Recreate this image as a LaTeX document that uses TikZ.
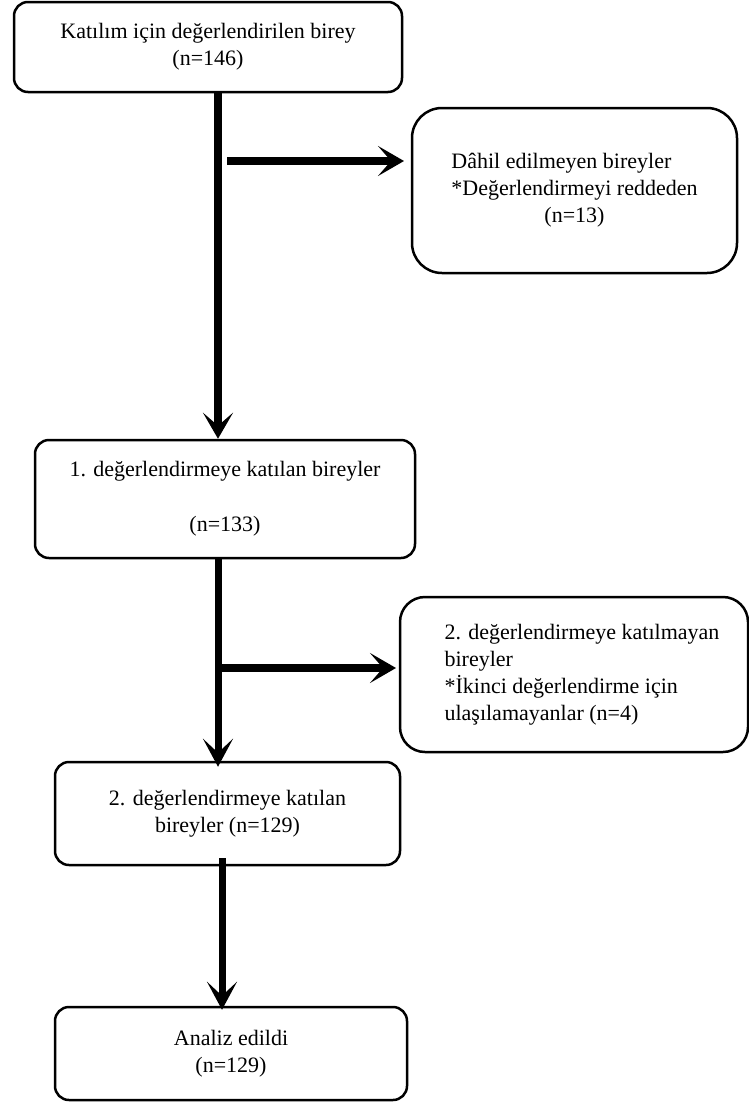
\documentclass[tikz,border=0pt]{standalone}
\usepackage{fontspec}
\setmainfont{Liberation Serif}
\usetikzlibrary{arrows.meta}
\begin{document}
\begin{tikzpicture}[x=1pt,y=-1pt,
  box/.style={draw, line width=2.5pt, rounded corners=#1, align=center,
    font=\fontsize{22}{27}\selectfont, inner sep=0pt},
  box/.default=14pt,
  conn/.style={line width=8.5pt, -{Stealth[length=26pt,width=30pt,inset=13pt]}},
  connthin/.style={line width=7pt, -{Stealth[length=28pt,width=30pt,inset=14pt]}}]
\useasboundingbox (0,0) rectangle (749,1103);
\fill[white] (0,0) rectangle (749,1103);

\node[box, minimum width=388pt, minimum height=90pt] (b1) at (208,47)
  {Katılım için değerlendirilen birey\\(n=146)};
\node[box=30pt, minimum width=325pt, minimum height=165pt] (ex1) at (574.5,190.5)
  {\begin{tabular}{@{}l@{}}Dâhil edilmeyen bireyler\\ {*}Değerlendirmeyi reddeden\\ \multicolumn{1}{@{}c@{}}{(n=13)}\end{tabular}};
\node[box, minimum width=380pt, minimum height=118pt] (b2) at (225,499)
  {1. değerlendirmeye katılan bireyler\\[28pt](n=133)};
\node[box=25pt, minimum width=348pt, minimum height=155pt] (ex2) at (574,674.5)
  {\begin{tabular}{@{\hspace{16pt}}l@{}}2. değerlendirmeye katılmayan\\ bireyler\\ {*}İkinci değerlendirme için\\ ulaşılamayanlar (n=4)\end{tabular}};
\node[box, minimum width=345pt, minimum height=103pt] (b3) at (227.5,813.5)
  {2. değerlendirmeye katılan\\bireyler (n=129)};
\node[box, minimum width=352pt, minimum height=93pt] (b4) at (231,1053.5)
  {Analiz edildi\\(n=129)};

\coordinate (s1) at (218,0);
\coordinate (s3) at (222,0);
\coordinate (h1s) at (227,161);
\coordinate (h1e) at (404,161);
\coordinate (h2s) at (218,668);
\coordinate (h2e) at (396,668);

\draw[conn] (b1.south -| s1) -- (b2.north -| s1);
\draw[conn] (h1s) -- (h1e);
\draw[connthin] (b2.south -| s1) -- ([yshift=-6pt]b3.north -| s1);
\draw[conn] (h2s) -- (h2e);
\draw[connthin] ([yshift=8pt]b3.south -| s3) -- ([yshift=-4pt]b4.north -| s3);
\end{tikzpicture}
\end{document}
